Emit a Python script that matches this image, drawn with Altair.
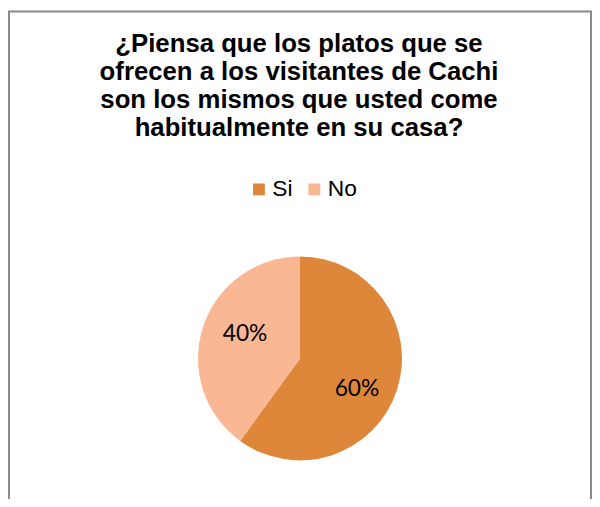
import altair as alt
import pandas as pd

categories = ["Si", "No"]
percentages = [60, 40]
colors = ["#DE863A", "#F9B793"]
title_lines = [
    "¿Piensa que los platos que se",
    "ofrecen a los visitantes de Cachi",
    "son los mismos que usted come",
    "habitualmente en su casa?",
]

df = pd.DataFrame({
    "respuesta": categories,
    "porcentaje": percentages,
    "orden": list(range(len(categories))),
})
df["etiqueta"] = df["porcentaje"].astype(str) + "%"

W, H = 590, 491
CX, CY, R = 295, 351.5, 103

border = alt.Chart(pd.DataFrame({"k": [0]})).mark_rect(
    fillOpacity=0, stroke="#8A8A8A", strokeWidth=2
).encode(
    x=alt.value(1), x2=alt.value(589), y=alt.value(1), y2=alt.value(800)
)

title = alt.Chart(pd.DataFrame({"k": [0]})).mark_text(
    font="Liberation Sans", fontSize=26, fontWeight="bold", lineHeight=28.3,
    align="center", baseline="alphabetic", color="black"
).encode(
    x=alt.value(294), y=alt.value(42), text=alt.value(title_lines)
)

base = alt.Chart(df).encode(
    theta=alt.Theta("porcentaje:Q", stack=True),
    order=alt.Order("orden:Q"),
)

pie = base.mark_arc(outerRadius=R).encode(
    x=alt.value(CX),
    y=alt.value(CY),
    color=alt.Color(
        "respuesta:N",
        scale=alt.Scale(domain=categories, range=colors),
        legend=alt.Legend(
            title=None, orient="none", legendX=242, legendY=169,
            direction="horizontal", symbolType="square", symbolSize=144,
            symbolStrokeWidth=0, symbolOpacity=1,
            labelFont="Liberation Sans", labelFontSize=23, labelColor="black",
            labelOffset=2, columnPadding=10, padding=0,
        ),
    ),
)

labels = base.mark_text(
    radius=63, thetaOffset=0.143, font="Lato", fontSize=23, color="black",
    baseline="middle", align="center", dx=1, dy=3
).encode(
    x=alt.value(CX), y=alt.value(CY), text="etiqueta:N"
)

chart = alt.layer(border, title, pie, labels).properties(
    width=W, height=H, padding=0, autosize="none"
).configure_view(stroke=None)

chart.save("out.html", embed_options={"renderer": "svg", "actions": False})
